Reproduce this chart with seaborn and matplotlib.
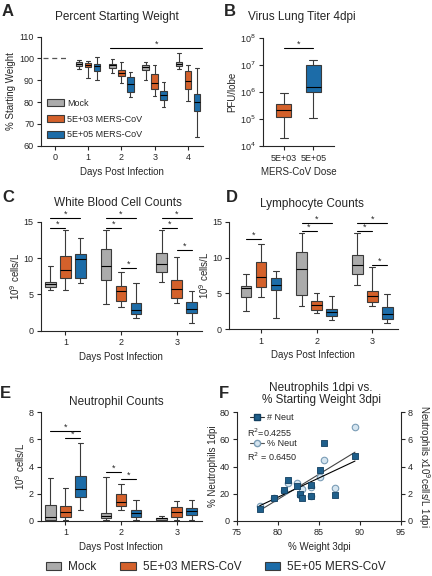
import numpy as np
import pandas as pd
import matplotlib
matplotlib.use('Agg')
import matplotlib.pyplot as plt
import seaborn as sns
from matplotlib.patches import Patch
from matplotlib.lines import Line2D

groups = ['Mock', '5E+03 MERS-CoV', '5E+05 MERS-CoV']
group_colors = ['#ababab', '#d4612b', '#1c6ca8']

# every box is stored as [min, q1, median, q3, max]
weight_days = [1, 2, 3, 4]
weight_mock = [[95.2, 96.4, 97.5, 98.4, 99.4], [93.3, 95.8, 96.9, 97.6, 99.8],
               [90.1, 94.6, 96.1, 97.2, 98.2], [95.0, 96.4, 97.3, 98.2, 102.5]]
weight_low = [[90.9, 96.0, 97.2, 97.8, 99.0], [88.6, 92.1, 93.5, 94.6, 98.2],
              [82.8, 85.8, 88.6, 92.7, 96.8], [80.5, 86.1, 89.8, 94.1, 97.0]]
weight_high = [[90.0, 94.1, 96.5, 97.5, 100.8], [82.5, 84.6, 88.1, 91.7, 93.8],
               [77.6, 80.9, 83.1, 85.1, 89.4], [64.1, 75.9, 80.2, 83.5, 95.6]]
weight_day0 = 100
weight_sig = (1.66, 4.43, 104.6)

titer_doses = ['5E+03', '5E+05']
titer_low = [1.9e4, 1.15e5, 2.1e5, 3.5e5, 8.9e5]
titer_high = [1.1e5, 1.0e6, 1.5e6, 9.6e6, 1.55e7]
titer_sig = (0, 1, 4.3e7)

count_days = [1, 2, 3]
wbc_mock = [[5.6, 6.0, 6.4, 6.65, 8.9], [3.7, 7.0, 8.85, 11.2, 13.9], [6.65, 8.1, 9.2, 10.7, 13.8]]
wbc_low = [[5.55, 7.3, 8.3, 10.3, 13.9], [3.25, 4.1, 5.4, 6.2, 8.1], [3.8, 4.45, 5.7, 7.0, 10.1]]
wbc_high = [[6.5, 7.2, 9.9, 10.6, 12.75], [1.7, 2.3, 2.85, 3.76, 6.5], [1.0, 2.4, 3.0, 3.95, 5.5]]
wbc_sig = [(0, 0, 2, 15.55), (0, 0, 1, 14.17), (1, 0, 2, 15.55), (1, 0, 1, 14.17),
           (1, 1, 2, 8.58), (2, 0, 2, 15.55), (2, 0, 1, 14.17), (2, 1, 2, 11.1)]

lym_mock = [[2.6, 4.55, 5.8, 6.1, 7.7], [3.26, 4.8, 8.47, 10.74, 13.4], [6.19, 7.67, 8.93, 10.3, 13.4]]
lym_low = [[4.5, 5.9, 7.3, 9.35, 11.95], [2.28, 2.7, 3.35, 3.95, 5.07], [3.3, 3.86, 4.65, 5.4, 8.65]]
lym_high = [[1.53, 5.44, 6.19, 7.2, 8.1], [1.26, 1.9, 2.37, 2.84, 4.6], [0.84, 1.49, 2.14, 3.16, 4.9]]
lym_sig = [(0, 0, 1, 12.6), (1, 0, 2, 14.84), (1, 0, 1, 13.7), (2, 0, 2, 14.84),
           (2, 0, 1, 13.7), (2, 1, 2, 8.93)]

neu_mock = [[0.0, 0.05, 0.3, 1.16, 3.15], [0.05, 0.17, 0.34, 0.59, 3.22], [0.0, 0.05, 0.17, 0.22, 0.37]]
neu_low = [[0.05, 0.3, 0.64, 1.1, 2.44], [0.79, 1.06, 1.38, 1.97, 2.7], [0.05, 0.3, 0.66, 0.98, 1.43]]
neu_high = [[0.76, 1.75, 2.31, 3.3, 5.7], [0.05, 0.3, 0.59, 0.76, 1.53], [0.05, 0.42, 0.71, 0.93, 1.5]]
neu_sig = [(0, 0, 2, 6.6), (0, 1, 2, 6.1), (1, 0, 1, 3.57), (1, 1, 2, 3.1)]

corr_weight = [77.8, 79.6, 81.3, 80.7, 82.3, 82.7, 82.9, 84.0, 84.0, 85.1, 85.6, 87.0, 89.4]
corr_count = [0.84, 1.7, 3.0, 2.3, 2.56, 1.95, 1.65, 2.64, 1.8, 3.72, 5.7, 1.87, 4.8]
corr_pct = [11, 16.5, 28, 22, 28, 19, 23.4, 25, 18, 32, 45, 24.4, 69]
r2_count = 'R$^2$=0.4255'
r2_pct = 'R$^2$ = 0.6450'

sns.set_style('ticks')
plt.rcParams['font.family'] = ['Liberation Sans', 'DejaVu Sans']
plt.rcParams['axes.linewidth'] = 0.8
plt.rcParams['xtick.labelsize'] = 6.5
plt.rcParams['ytick.labelsize'] = 6.5
plt.rcParams['axes.labelsize'] = 7
plt.rcParams['xtick.major.size'] = 3
plt.rcParams['ytick.major.size'] = 3
plt.rcParams['xtick.major.width'] = 0.8
plt.rcParams['ytick.major.width'] = 0.8
plt.rcParams['ytick.major.pad'] = 2
plt.rcParams['xtick.major.pad'] = 2.5

W, H = 432, 576


def px_axes(fig, left, top, right, bottom):
    return fig.add_axes([left / W, 1 - bottom / H, (right - left) / W, (bottom - top) / H])


def long_frame(days, per_group):
    rows = []
    for g, boxes in zip(groups, per_group):
        for d, vals in zip(days, boxes):
            for v in vals:
                rows.append((d, g, v))
    return pd.DataFrame(rows, columns=['day', 'group', 'value'])


def draw_boxes(ax, df, order, width=0.81, gap=0.28):
    sns.boxplot(data=df, x='day', y='value', hue='group', order=order, hue_order=groups,
                palette=group_colors, whis=(0, 100), width=width, gap=gap, linewidth=0.8,
                linecolor='#3a3a3a', medianprops={'color': 'black'}, saturation=1,
                legend=False, ax=ax)


def star_bar(ax, x1, x2, y):
    ax.plot([x1, x2], [y, y], color='black', lw=0.8, clip_on=False)
    ax.annotate('*', ((x1 + x2) / 2, y), xytext=(0, -0.5), textcoords='offset points',
                ha='center', va='bottom', fontsize=6.5, annotation_clip=False)


def sig_bars(ax, sig, width=0.81):
    step = width / 3
    for d, a, b, y in sig:
        star_bar(ax, d + (a - 1) * step, d + (b - 1) * step, y)


def clean(ax):
    sns.despine(ax=ax)
    ax.set_facecolor('white')


fig = plt.figure(figsize=(W / 100, H / 100), dpi=100)

# A
axA = px_axes(fig, 41, 36.7, 203, 145.7)
draw_boxes(axA, long_frame(weight_days, [weight_mock, weight_low, weight_high]), [0, 1, 2, 3, 4])
axA.hlines(weight_day0, -0.34, 0.41, colors='#555555', linestyles=(0, (4, 3)), lw=0.9)
star_bar(axA, *weight_sig)
axA.set_xlim(-0.41, 4.45)
axA.set_ylim(60, 110)
axA.set_yticks(range(60, 111, 10))
axA.set_xlabel('Days Post Infection', labelpad=3)
axA.set_ylabel('% Starting Weight', labelpad=2)
clean(axA)
axA.legend(handles=[Patch(facecolor=c, edgecolor='#3a3a3a', lw=0.8) for c in group_colors],
           labels=groups, loc='lower left', bbox_to_anchor=(0.0, 0.0), frameon=False,
           fontsize=6.5, handlelength=1.8, handleheight=0.9, labelspacing=0.75,
           handletextpad=0.4, borderaxespad=0.3)

# B
axB = px_axes(fig, 262.7, 38, 334, 146)
dfB = pd.DataFrame({'dose': [titer_doses[0]] * 5 + [titer_doses[1]] * 5,
                    'titer': titer_low + titer_high})
sns.boxplot(data=dfB, x='dose', y='titer', hue='dose', palette=group_colors[1:], whis=(0, 100),
            width=0.53, linewidth=0.8, linecolor='#3a3a3a', medianprops={'color': 'black'},
            saturation=1, legend=False, log_scale=(False, True), ax=axB)
star_bar(axB, *titer_sig)
axB.set_xlim(-0.7, 1.69)
axB.set_ylim(1e4, 1e8)
axB.set_yticks([1e4, 1e5, 1e6, 1e7, 1e8])
axB.set_yticklabels(['10$^4$', '10$^5$', '10$^6$', '10$^7$', '10$^8$'])
axB.minorticks_off()
axB.set_xlabel('MERS-CoV Dose', labelpad=3)
axB.set_ylabel('PFU/lobe', labelpad=2)
clean(axB)

# C, D, E
count_panels = [
    ((40.7, 221.7, 201.7, 330.7), [wbc_mock, wbc_low, wbc_high], wbc_sig, (0, 15), [0, 5, 10, 15], (-0.443, 2.45)),
    ((229, 221.7, 397.7, 329.3), [lym_mock, lym_low, lym_high], lym_sig, (0, 15), [0, 5, 10, 15], (-0.576, 2.46)),
    ((40.7, 412.3, 201.7, 520.7), [neu_mock, neu_low, neu_high], neu_sig, (0, 8), [0, 2, 4, 6, 8], (-0.443, 2.45)),
]
count_axes = []
for box, data, sig, ylim, yticks, xlim in count_panels:
    ax = px_axes(fig, *box)
    draw_boxes(ax, long_frame(count_days, data), count_days)
    sig_bars(ax, sig)
    ax.set_xlim(*xlim)
    ax.set_ylim(*ylim)
    ax.set_yticks(yticks)
    ax.set_xlabel('Days Post Infection', labelpad=3)
    ax.set_ylabel('10$^9$ cells/L', labelpad=1)
    clean(ax)
    count_axes.append(ax)

# F
axF = px_axes(fig, 236.7, 412.3, 401, 520.7)
axF2 = axF.twinx()
sns.regplot(x=corr_weight, y=corr_pct, scatter=False, ci=None, color='#444444',
            line_kws={'lw': 0.8}, ax=axF)
sns.scatterplot(x=corr_weight, y=corr_pct, marker='o', s=22, color='#d5e5f0',
                edgecolor='#7b9db6', linewidth=0.8, ax=axF, zorder=3)
sns.regplot(x=corr_weight, y=corr_count, scatter=False, ci=None, color='black',
            line_kws={'lw': 0.8}, ax=axF2)
sns.scatterplot(x=corr_weight, y=corr_count, marker='s', s=24, color='#1f5f8b',
                edgecolor='#123f60', linewidth=0.6, ax=axF2, zorder=3)
axF.set_xlim(75, 95)
axF.set_xticks(range(75, 96, 5))
axF.set_ylim(0, 80)
axF.set_yticks(range(0, 81, 20))
axF2.set_ylim(0, 8)
axF2.set_yticks(range(0, 9, 2))
axF.set_xlabel('% Weight 3dpi', labelpad=3)
axF.set_ylabel('% Neutrophils 1dpi', labelpad=1)
axF2.set_ylabel('Neutrophils x10$^9$cells/L 1dpi', rotation=270, va='bottom', labelpad=2)
for a in (axF, axF2):
    a.spines['top'].set_visible(False)
axF.spines['right'].set_visible(False)
axF2.spines['left'].set_visible(False)
axF2.spines['bottom'].set_visible(False)
leg_h = [Line2D([0], [0], color='#333333', lw=0.8, marker='s', ms=4.5, mfc='#1f5f8b', mec='#123f60'),
         Line2D([0], [0], color='#555555', lw=0.8, marker='o', ms=4.5, mfc='#d5e5f0', mec='#7b9db6')]
axF.legend(leg_h, ['# Neut', '% Neut'], loc='upper left', bbox_to_anchor=(0.03, 1.07),
           frameon=False, fontsize=6.5, handlelength=1.6, handletextpad=0.3, labelspacing=1.9)
axF.text(0.065, 0.815, r2_count, transform=axF.transAxes, fontsize=6.5, va='center')
axF.text(0.065, 0.585, r2_pct, transform=axF.transAxes, fontsize=6.5, va='center')

# titles and panel letters
titles = [('Percent Starting Weight', 117, 17), ('Virus Lung Titer 4dpi', 302, 17),
          ('White Blood Cell Counts', 118, 203), ('Lymphocyte Counts', 312, 204),
          ('Neutrophil Counts', 116, 402), ('Neutrophils 1dpi vs.\n% Starting Weight 3dpi', 321, 394)]
for t, x, y in titles:
    fig.text(x / W, 1 - y / H, t, ha='center', va='center', fontsize=8.5, linespacing=1.1)
letters = [('A', 2, 12), ('B', 224, 12), ('C', 2, 197), ('D', 226, 198), ('E', 0, 393), ('F', 219, 394)]
for t, x, y in letters:
    fig.text(x / W, 1 - y / H, t, ha='left', va='center', fontsize=12, fontweight='bold')

fig.legend(handles=[Patch(facecolor=c, edgecolor='#3a3a3a', lw=0.8) for c in group_colors],
           labels=groups, loc='center', bbox_to_anchor=(0.5, 1 - 567 / H), ncol=3, frameon=False,
           fontsize=8.5, handlelength=1.3, handleheight=0.7, columnspacing=2.0, handletextpad=0.6)

fig.savefig('out.png', dpi=100, facecolor='white')
